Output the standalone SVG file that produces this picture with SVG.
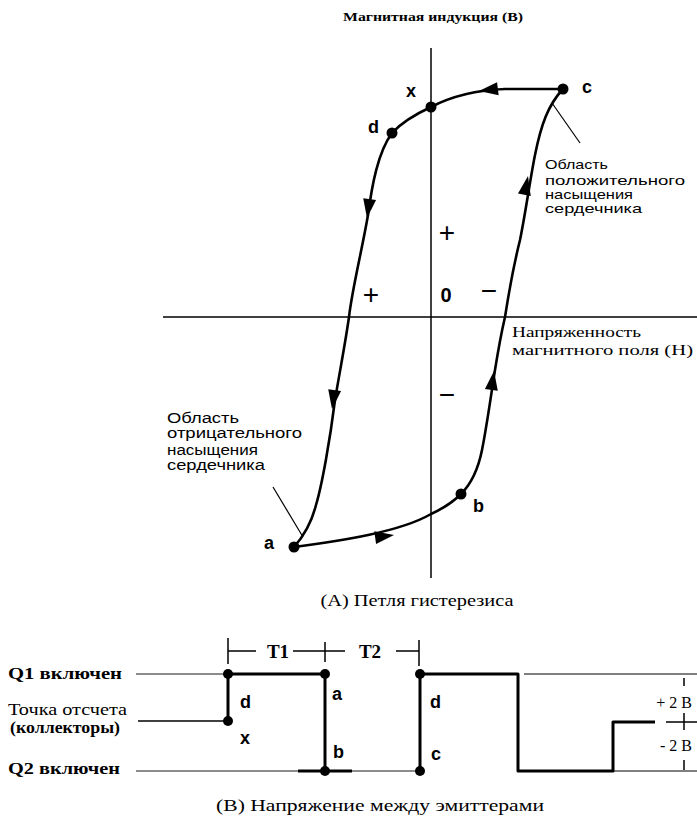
<svg xmlns="http://www.w3.org/2000/svg" xmlns:xlink="http://www.w3.org/1999/xlink" width="697" height="820" viewBox="0 0 697 820">
<style>
.ax{stroke:#000;stroke-width:1.5;fill:none}
.loop{stroke:#000;stroke-width:2.6;fill:none;stroke-linecap:round}
.thin{stroke:#000;stroke-width:1.2;fill:none}
.gray{stroke:#666;stroke-width:1.6;fill:none}
.thick{stroke:#000;stroke-width:3;fill:none;stroke-linejoin:round}
.dot{fill:#000}
.serif{font-family:"Liberation Serif","Times New Roman",serif;fill:#000}
.sans{font-family:"Liberation Sans",Arial,sans-serif;fill:#000}
.lbl{font-family:"Liberation Sans",Arial,sans-serif;font-weight:bold;font-size:18px;fill:#000}
.sign{font-family:"Liberation Sans",Arial,sans-serif;font-size:28px;fill:#000;text-anchor:middle}
</style>
<defs>
<path id="arr" d="M0,0 L-19,-6.5 L-19,6.5 Z" fill="#000"/>
</defs>
<rect width="697" height="820" fill="#fff"/>

<g id="axes">
<line class="ax" x1="431" y1="48" x2="431" y2="578"/>
<line class="ax" x1="163" y1="317" x2="697" y2="317"/>
<text class="serif" x="343" y="21" font-size="12" font-weight="bold" textLength="180" lengthAdjust="spacingAndGlyphs">Магнитная индукция (B)</text>
<text class="serif" x="512" y="337" font-size="15" textLength="129" lengthAdjust="spacingAndGlyphs">Напряженность</text>
<text class="serif" x="512" y="355" font-size="15" textLength="181" lengthAdjust="spacingAndGlyphs">магнитного поля (H)</text>
<text class="sign" x="447" y="242">+</text>
<text class="sign" x="371" y="304">+</text>
<text class="sans" x="446" y="302" font-size="20" font-weight="bold" text-anchor="middle">0</text>
<text class="sign" x="489" y="300">−</text>
<text class="sign" x="447" y="404">−</text>
</g>

<g id="connectors">
<path class="loop" d="M563,89 L505,89 C478,90 452,96 431,107 C418,113 402,122 392,133 C378,152 372,185 368,215 C362,250 352,290 349,317 C345,345 340,370 335,400 C330,440 322,485 316,505 C311,525 302,538 294,547 C340,541 400,532 431,514 C442,509 453,502 461,494 C472,483 478,470 482,450 C487,425 491,395 495,370 C499,345 502,330 505,317 C510,285 515,260 520,240 C526,210 530,180 535,155 C541,125 548,105 563,89"/>
<use xlink:href="#arr" transform="translate(479,91) rotate(173)"/>
<use xlink:href="#arr" transform="translate(367,218) rotate(98)"/>
<use xlink:href="#arr" transform="translate(332,409) rotate(98)"/>
<use xlink:href="#arr" transform="translate(394,535) rotate(-8)"/>
<use xlink:href="#arr" transform="translate(494,371) rotate(-82)"/>
<use xlink:href="#arr" transform="translate(528,176) rotate(-79)"/>
<line class="thin" x1="552" y1="103" x2="580" y2="143"/>
<line class="thin" x1="273" y1="487" x2="303" y2="537"/>
</g>

<g id="point-c"><circle class="dot" cx="563" cy="89" r="5.5"/><text class="lbl" x="582" y="93">c</text></g>
<g id="point-x"><circle class="dot" cx="431" cy="107" r="5.5"/><text class="lbl" x="406" y="97">x</text></g>
<g id="point-d"><circle class="dot" cx="392" cy="133" r="5.5"/><text class="lbl" x="368" y="133">d</text></g>
<g id="point-a"><circle class="dot" cx="294" cy="547" r="5.5"/><text class="lbl" x="264" y="549">a</text></g>
<g id="point-b"><circle class="dot" cx="461" cy="494" r="5.5"/><text class="lbl" x="473" y="512">b</text></g>

<g id="label-positive">
<text class="sans" x="545" y="169" font-size="13" textLength="63" lengthAdjust="spacingAndGlyphs">Область</text>
<text class="sans" x="545" y="185" font-size="13" textLength="140" lengthAdjust="spacingAndGlyphs">положительного</text>
<text class="sans" x="545" y="199" font-size="13" textLength="88" lengthAdjust="spacingAndGlyphs">насыщения</text>
<text class="sans" x="545" y="213" font-size="13" textLength="97" lengthAdjust="spacingAndGlyphs">сердечника</text>
</g>
<g id="label-negative">
<text class="sans" x="167" y="423" font-size="14" textLength="72" lengthAdjust="spacingAndGlyphs">Область</text>
<text class="sans" x="167" y="438" font-size="14" textLength="135" lengthAdjust="spacingAndGlyphs">отрицательного</text>
<text class="sans" x="167" y="455" font-size="14" textLength="91" lengthAdjust="spacingAndGlyphs">насыщения</text>
<text class="sans" x="167" y="470" font-size="14" textLength="98" lengthAdjust="spacingAndGlyphs">сердечника</text>
</g>

<text class="serif" x="417" y="606" font-size="16" text-anchor="middle" textLength="193" lengthAdjust="spacingAndGlyphs">(A) Петля гистерезиса</text>

<g id="waveform">
<text class="serif" x="8" y="679" font-size="17" font-weight="bold" textLength="114" lengthAdjust="spacingAndGlyphs">Q1 включен</text>
<text class="serif" x="8" y="715" font-size="17" textLength="119" lengthAdjust="spacingAndGlyphs">Точка отсчета</text>
<text class="serif" x="10" y="733" font-size="17" font-weight="bold" textLength="110" lengthAdjust="spacingAndGlyphs">(коллекторы)</text>
<text class="serif" x="8" y="774" font-size="17" font-weight="bold" textLength="112" lengthAdjust="spacingAndGlyphs">Q2 включен</text>

<line class="gray" x1="136" y1="674" x2="228" y2="674"/>
<line class="gray" x1="136" y1="771" x2="300" y2="771"/>
<line class="gray" x1="352" y1="771" x2="420" y2="771"/>
<line class="thin" x1="524" y1="674" x2="697" y2="674"/>
<line class="thin" x1="613" y1="771" x2="697" y2="771"/>
<line class="ax" x1="138" y1="721" x2="228" y2="721" stroke-width="2"/>
<path class="thick" d="M228,721 L228,674 L325,674 L325,771"/>
<path class="thick" d="M298,771 L352,771"/>
<path class="thick" d="M420,771 L420,674 L518,674 L518,771 L613,771 L613,722 L655,722"/>
<circle class="dot" cx="228" cy="674" r="5"/>
<circle class="dot" cx="228" cy="721" r="5"/>
<circle class="dot" cx="325" cy="674" r="5"/>
<circle class="dot" cx="325" cy="771" r="5"/>
<circle class="dot" cx="420" cy="674" r="5"/>
<circle class="dot" cx="420" cy="771" r="5"/>
<text class="lbl" x="240" y="708">d</text>
<text class="lbl" x="240" y="744">x</text>
<text class="lbl" x="332" y="700">a</text>
<text class="lbl" x="333" y="758">b</text>
<text class="lbl" x="430" y="708">d</text>
<text class="lbl" x="431" y="760">c</text>

<path class="ax" d="M228,638 V664 M228,651 H256 M293,651 H345 M325,642 V662 M396,651 H419 M419,640 V666"/>
<text class="serif" x="278" y="658" font-size="19" font-weight="bold" text-anchor="middle">T1</text>
<text class="serif" x="370" y="658" font-size="19" font-weight="bold" text-anchor="middle">T2</text>

<path class="ax" d="M684,678 V686 M684,760 V770 M666,722 H697 M684,713 V730"/>
<text class="serif" x="692" y="708" font-size="16" text-anchor="end">+ 2 B</text>
<text class="serif" x="692" y="751" font-size="16" text-anchor="end">- 2 B</text>
</g>

<text class="serif" x="380" y="811" font-size="17" text-anchor="middle" textLength="328" lengthAdjust="spacingAndGlyphs">(B) Напряжение между эмиттерами</text>
</svg>
